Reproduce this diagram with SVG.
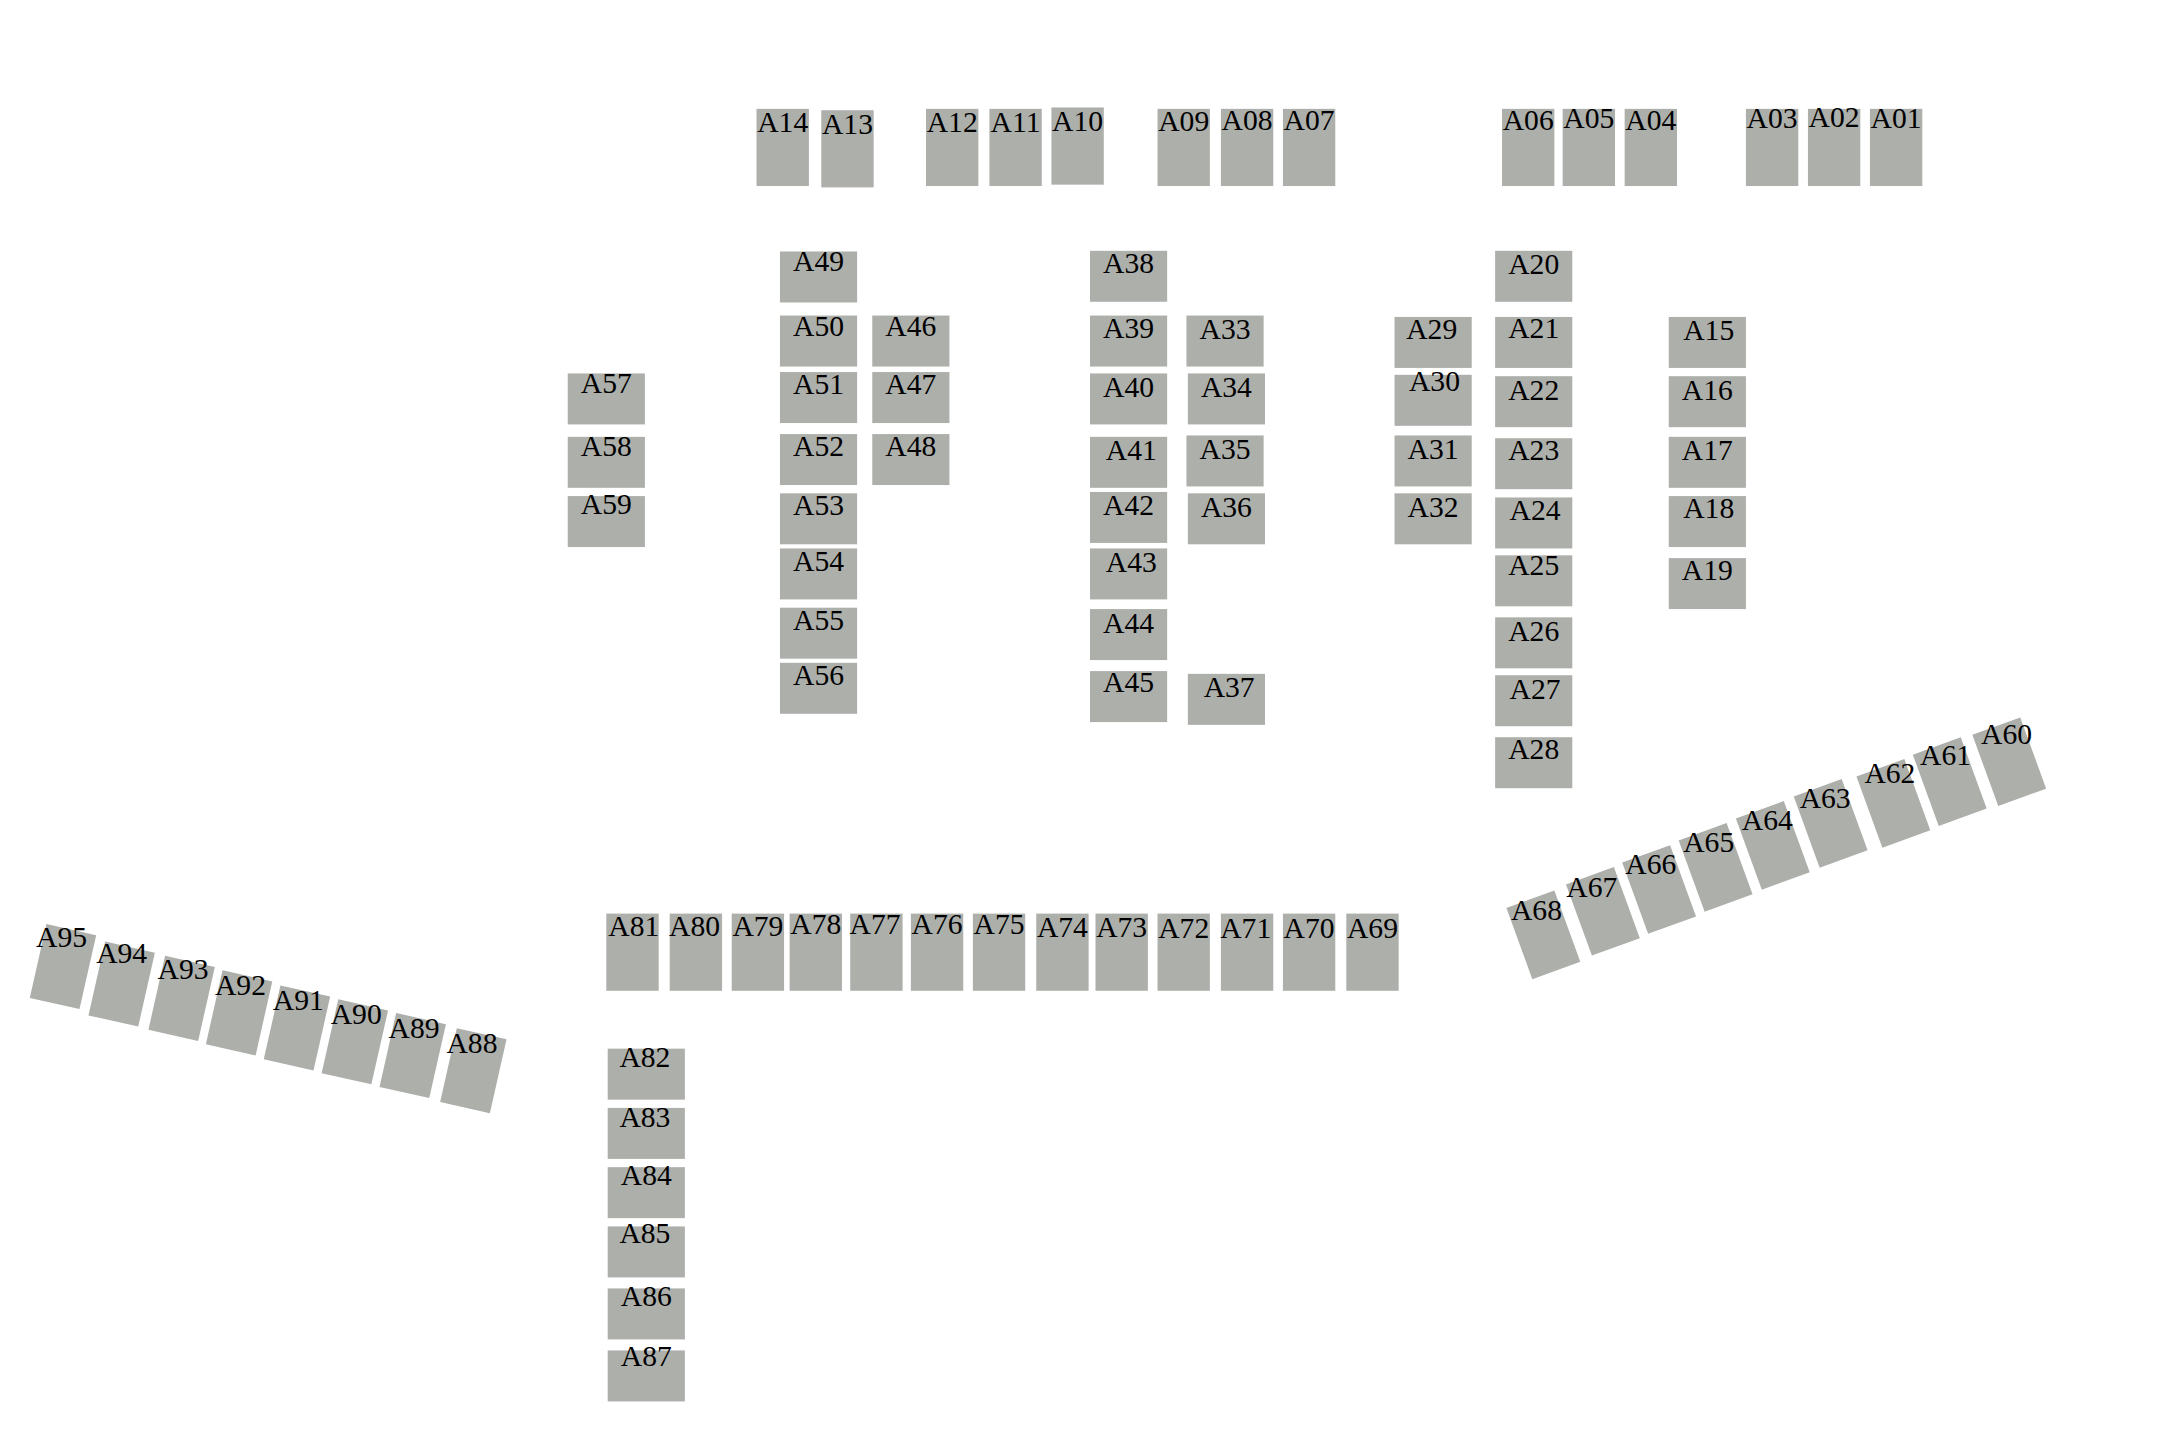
<svg xmlns="http://www.w3.org/2000/svg" width="2160" height="1440" viewBox="0 0 2160 1440">
<style>
rect{fill:#adafab}
text{font-family:"Liberation Serif","Times New Roman",serif;font-size:21.5px;fill:#000;text-anchor:middle}
</style>
<defs>
<rect id="P" width="38" height="56"/>
<rect id="L" width="56" height="37"/>
<rect id="RL" x="-18.5" y="-27.5" width="37" height="55" transform="rotate(12.7)"/>
<rect id="RR" x="-18.5" y="-27.5" width="37" height="55" transform="rotate(-20)"/>
</defs>
<rect x="0" y="0" width="2160" height="1440" style="fill:#fff"/>
<g id="connectors"></g>
<g transform="scale(1.378)">
<g id="A14" transform="translate(549,79)"><use href="#P"/><text x="19" y="17">A14</text></g>
<g id="A13" transform="translate(596,80)"><use href="#P"/><text x="19" y="17">A13</text></g>
<g id="A12" transform="translate(672,79)"><use href="#P"/><text x="19" y="17">A12</text></g>
<g id="A11" transform="translate(718,79)"><use href="#P"/><text x="19" y="17">A11</text></g>
<g id="A10" transform="translate(763,78)"><use href="#P"/><text x="19" y="17">A10</text></g>
<g id="A09" transform="translate(840,79)"><use href="#P"/><text x="19" y="16">A09</text></g>
<g id="A08" transform="translate(886,79)"><use href="#P"/><text x="19" y="15">A08</text></g>
<g id="A07" transform="translate(931,79)"><use href="#P"/><text x="19" y="15">A07</text></g>
<g id="A06" transform="translate(1090,79)"><use href="#P"/><text x="19" y="15">A06</text></g>
<g id="A05" transform="translate(1134,79)"><use href="#P"/><text x="19" y="14">A05</text></g>
<g id="A04" transform="translate(1179,79)"><use href="#P"/><text x="19" y="15">A04</text></g>
<g id="A03" transform="translate(1267,79)"><use href="#P"/><text x="19" y="14">A03</text></g>
<g id="A02" transform="translate(1312,79)"><use href="#P"/><text x="19" y="13">A02</text></g>
<g id="A01" transform="translate(1357,79)"><use href="#P"/><text x="19" y="14">A01</text></g>

<g id="A49" transform="translate(566,182.5)"><use href="#L"/><text x="28" y="14">A49</text></g>
<g id="A50" transform="translate(566,229)"><use href="#L"/><text x="28" y="15">A50</text></g>
<g id="A51" transform="translate(566,270)"><use href="#L"/><text x="28" y="16">A51</text></g>
<g id="A52" transform="translate(566,315)"><use href="#L"/><text x="28" y="16">A52</text></g>
<g id="A53" transform="translate(566,358)"><use href="#L"/><text x="28" y="16">A53</text></g>
<g id="A54" transform="translate(566,398)"><use href="#L"/><text x="28" y="16">A54</text></g>
<g id="A55" transform="translate(566,441)"><use href="#L"/><text x="28" y="16">A55</text></g>
<g id="A56" transform="translate(566,481)"><use href="#L"/><text x="28" y="16">A56</text></g>

<g id="A46" transform="translate(633,229)"><use href="#L"/><text x="28" y="15">A46</text></g>
<g id="A47" transform="translate(633,270)"><use href="#L"/><text x="28" y="16">A47</text></g>
<g id="A48" transform="translate(633,315)"><use href="#L"/><text x="28" y="16">A48</text></g>

<g id="A57" transform="translate(412,271)"><use href="#L"/><text x="28" y="14">A57</text></g>
<g id="A58" transform="translate(412,317)"><use href="#L"/><text x="28" y="14">A58</text></g>
<g id="A59" transform="translate(412,360)"><use href="#L"/><text x="28" y="13">A59</text></g>

<g id="A38" transform="translate(791,182)"><use href="#L"/><text x="28" y="16">A38</text></g>
<g id="A39" transform="translate(791,229)"><use href="#L"/><text x="28" y="16">A39</text></g>
<g id="A40" transform="translate(791,271)"><use href="#L"/><text x="28" y="17">A40</text></g>
<g id="A41" transform="translate(791,317)"><use href="#L"/><text x="30" y="17">A41</text></g>
<g id="A42" transform="translate(791,357)"><use href="#L"/><text x="28" y="17">A42</text></g>
<g id="A43" transform="translate(791,398)"><use href="#L"/><text x="30" y="17">A43</text></g>
<g id="A44" transform="translate(791,442)"><use href="#L"/><text x="28" y="17">A44</text></g>
<g id="A45" transform="translate(791,487)"><use href="#L"/><text x="28" y="15">A45</text></g>

<g id="A33" transform="translate(861,229)"><use href="#L"/><text x="28" y="17">A33</text></g>
<g id="A34" transform="translate(862,271)"><use href="#L"/><text x="28" y="17">A34</text></g>
<g id="A35" transform="translate(861,316)"><use href="#L"/><text x="28" y="17">A35</text></g>
<g id="A36" transform="translate(862,358)"><use href="#L"/><text x="28" y="17">A36</text></g>
<g id="A37" transform="translate(862,489)"><use href="#L"/><text x="30" y="17">A37</text></g>

<g id="A29" transform="translate(1012,230)"><use href="#L"/><text x="27" y="16">A29</text></g>
<g id="A30" transform="translate(1012,272)"><use href="#L"/><text x="29" y="11.5">A30</text></g>
<g id="A31" transform="translate(1012,316)"><use href="#L"/><text x="28" y="17">A31</text></g>
<g id="A32" transform="translate(1012,358)"><use href="#L"/><text x="28" y="17">A32</text></g>

<g id="A20" transform="translate(1085,182)"><use href="#L"/><text x="28" y="17">A20</text></g>
<g id="A21" transform="translate(1085,230)"><use href="#L"/><text x="28" y="15">A21</text></g>
<g id="A22" transform="translate(1085,273)"><use href="#L"/><text x="28" y="17">A22</text></g>
<g id="A23" transform="translate(1085,318)"><use href="#L"/><text x="28" y="16">A23</text></g>
<g id="A24" transform="translate(1085,361)"><use href="#L"/><text x="29" y="16">A24</text></g>
<g id="A25" transform="translate(1085,403)"><use href="#L"/><text x="28" y="14">A25</text></g>
<g id="A26" transform="translate(1085,448)"><use href="#L"/><text x="28" y="17">A26</text></g>
<g id="A27" transform="translate(1085,490)"><use href="#L"/><text x="29" y="17">A27</text></g>
<g id="A28" transform="translate(1085,535)"><use href="#L"/><text x="28" y="16">A28</text></g>

<g id="A15" transform="translate(1211,230)"><use href="#L"/><text x="29" y="17">A15</text></g>
<g id="A16" transform="translate(1211,273)"><use href="#L"/><text x="28" y="17">A16</text></g>
<g id="A17" transform="translate(1211,317)"><use href="#L"/><text x="28" y="17">A17</text></g>
<g id="A18" transform="translate(1211,360)"><use href="#L"/><text x="29" y="16">A18</text></g>
<g id="A19" transform="translate(1211,405)"><use href="#L"/><text x="28" y="16">A19</text></g>

<g id="A81" transform="translate(440,663)"><use href="#P"/><text x="20" y="16">A81</text></g>
<g id="A80" transform="translate(486,663)"><use href="#P"/><text x="18" y="16">A80</text></g>
<g id="A79" transform="translate(531,663)"><use href="#P"/><text x="19" y="16">A79</text></g>
<g id="A78" transform="translate(573,663)"><use href="#P"/><text x="19" y="15">A78</text></g>
<g id="A77" transform="translate(617,663)"><use href="#P"/><text x="18" y="15">A77</text></g>
<g id="A76" transform="translate(661,663)"><use href="#P"/><text x="19" y="15">A76</text></g>
<g id="A75" transform="translate(706,663)"><use href="#P"/><text x="19" y="15">A75</text></g>
<g id="A74" transform="translate(752,663)"><use href="#P"/><text x="19" y="17">A74</text></g>
<g id="A73" transform="translate(795,663)"><use href="#P"/><text x="19" y="17">A73</text></g>
<g id="A72" transform="translate(840,663)"><use href="#P"/><text x="19" y="18">A72</text></g>
<g id="A71" transform="translate(886,663)"><use href="#P"/><text x="18" y="18">A71</text></g>
<g id="A70" transform="translate(931,663)"><use href="#P"/><text x="19" y="18">A70</text></g>
<g id="A69" transform="translate(977,663)"><use href="#P"/><text x="19" y="18">A69</text></g>

<g id="A82" transform="translate(441,761)"><use href="#L"/><text x="27" y="13">A82</text></g>
<g id="A83" transform="translate(441,804)"><use href="#L"/><text x="27" y="14">A83</text></g>
<g id="A84" transform="translate(441,847)"><use href="#L"/><text x="28" y="13">A84</text></g>
<g id="A85" transform="translate(441,890)"><use href="#L"/><text x="27" y="12">A85</text></g>
<g id="A86" transform="translate(441,935)"><use href="#L"/><text x="28" y="13">A86</text></g>
<g id="A87" transform="translate(441,980)"><use href="#L"/><text x="28" y="11">A87</text></g>

<g id="A95" transform="translate(45.7,701.4)"><use href="#RL"/><text x="-1" y="-14">A95</text></g>
<g id="A94" transform="translate(88.3,714.1)"><use href="#RL"/><text x="0" y="-15.5">A94</text></g>
<g id="A93" transform="translate(131.8,724.5)"><use href="#RL"/><text x="1" y="-14">A93</text></g>
<g id="A92" transform="translate(173.5,735)"><use href="#RL"/><text x="1" y="-13">A92</text></g>
<g id="A91" transform="translate(215.5,746)"><use href="#RL"/><text x="1" y="-13">A91</text></g>
<g id="A90" transform="translate(257.5,756)"><use href="#RL"/><text x="1" y="-13">A90</text></g>
<g id="A89" transform="translate(299.5,766)"><use href="#RL"/><text x="1" y="-13">A89</text></g>
<g id="A88" transform="translate(343.5,777)"><use href="#RL"/><text x="-1" y="-13">A88</text></g>

<g id="A68" transform="translate(1120,678.4)"><use href="#RR"/><text x="-5" y="-11">A68</text></g>
<g id="A67" transform="translate(1163.2,661.3)"><use href="#RR"/><text x="-8" y="-10.5">A67</text></g>
<g id="A66" transform="translate(1204,645.5)"><use href="#RR"/><text x="-6" y="-11">A66</text></g>
<g id="A65" transform="translate(1245,629.5)"><use href="#RR"/><text x="-5" y="-11">A65</text></g>
<g id="A64" transform="translate(1286.5,613.5)"><use href="#RR"/><text x="-4" y="-11.5">A64</text></g>
<g id="A63" transform="translate(1328.5,597.5)"><use href="#RR"/><text x="-4" y="-11.5">A63</text></g>
<g id="A62" transform="translate(1374,583)"><use href="#RR"/><text x="-2.5" y="-14.5">A62</text></g>
<g id="A61" transform="translate(1414.9,567.2)"><use href="#RR"/><text x="-3" y="-12">A61</text></g>
<g id="A60" transform="translate(1458.1,552.8)"><use href="#RR"/><text x="-2" y="-13">A60</text></g>
</g>
</svg>
